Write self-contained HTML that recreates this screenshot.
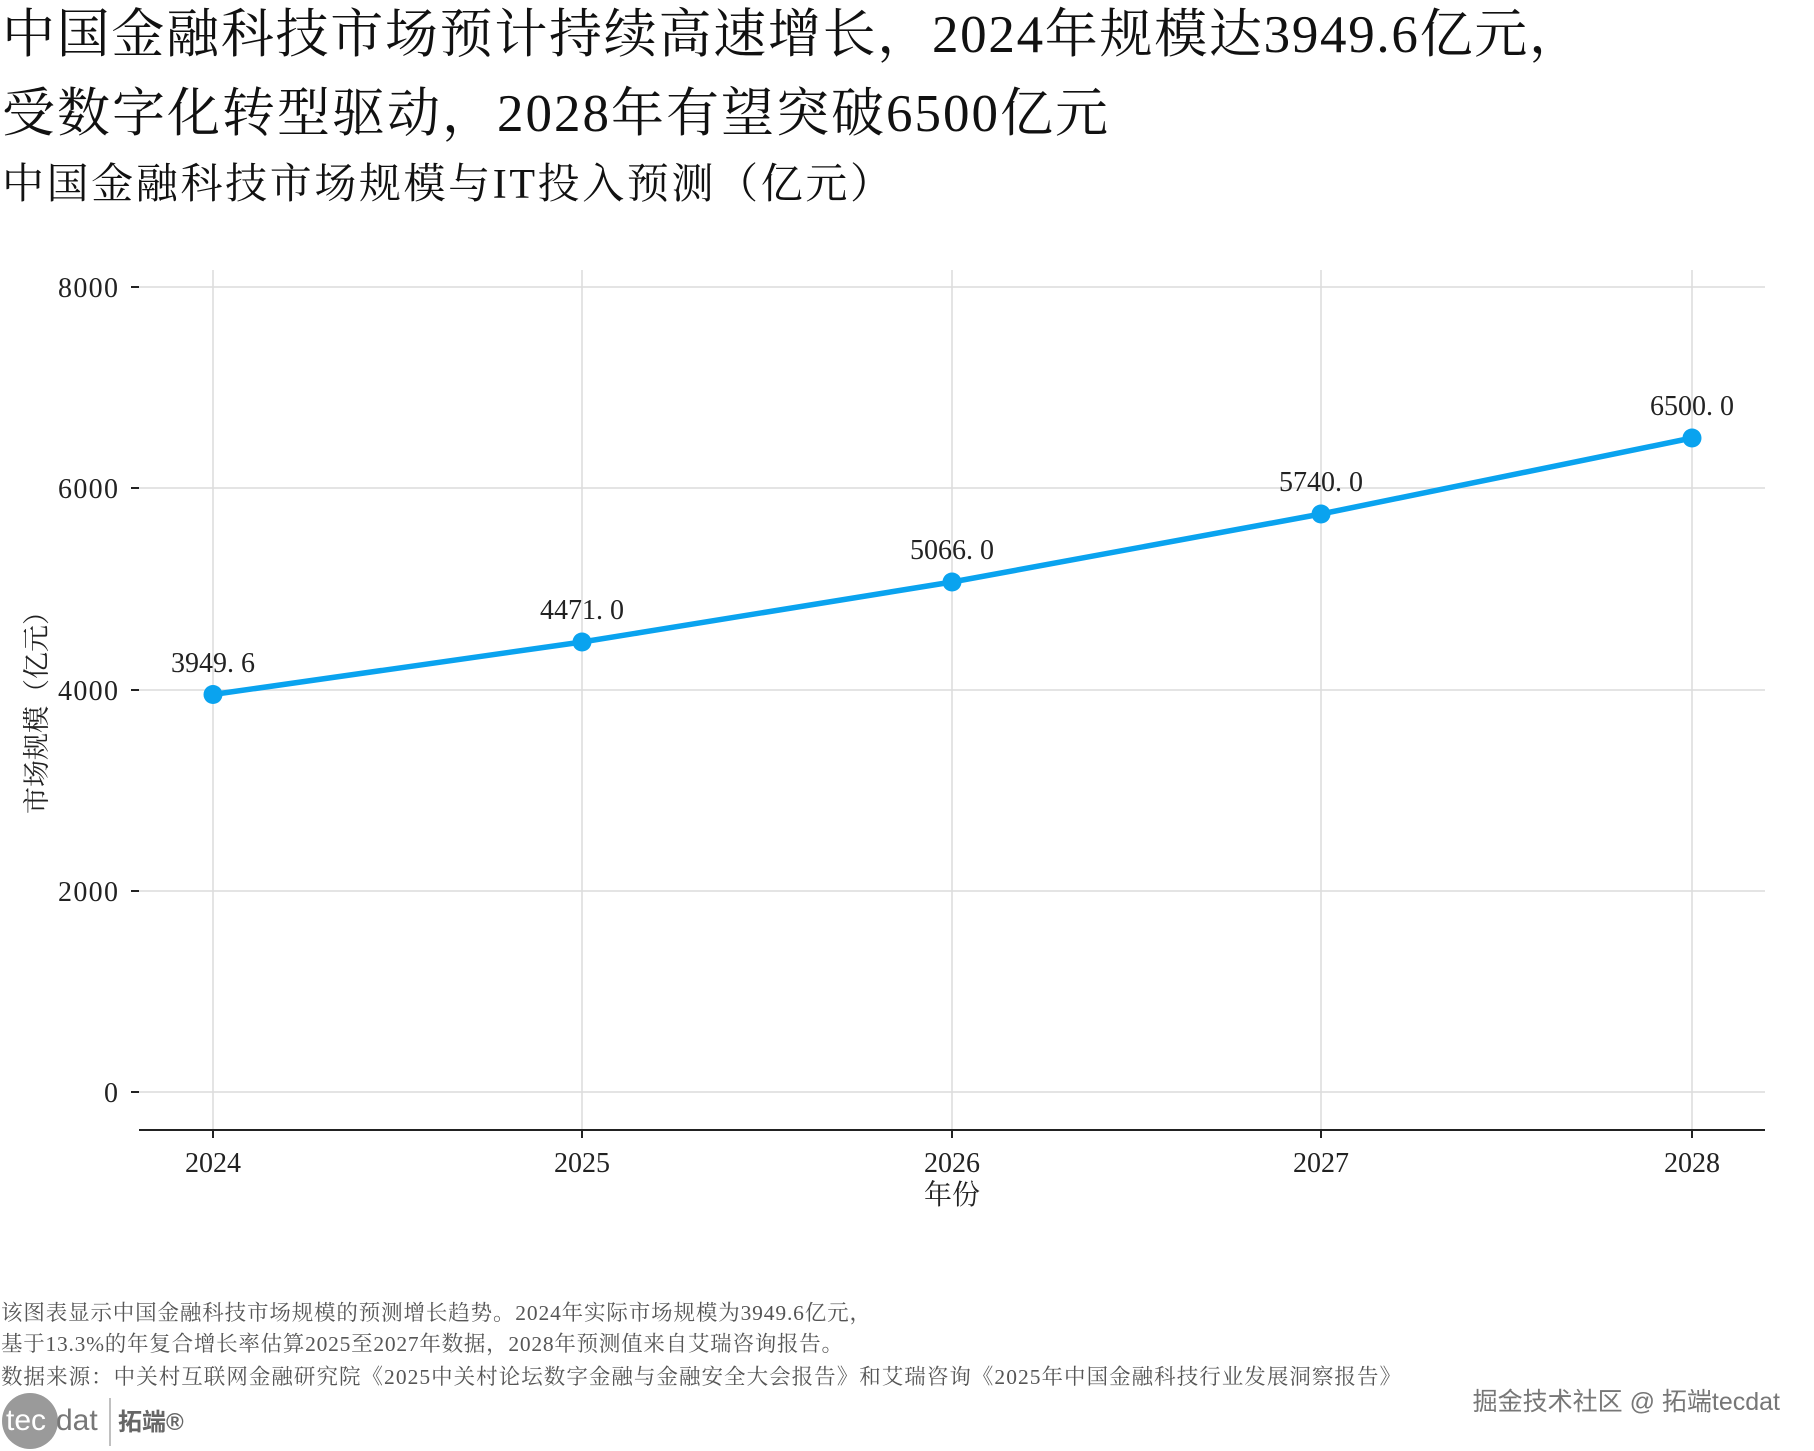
<!DOCTYPE html>
<html><head><meta charset="utf-8"><style>
body{margin:0;background:#fff;}
svg{display:block;font-family:"Liberation Serif","Noto Serif CJK SC",serif;}
</style></head><body>
<svg width="1814" height="1451" viewBox="0 0 1814 1451" xmlns="http://www.w3.org/2000/svg">
<text x="2" y="52" font-size="53" fill="#111" textLength="1580" lengthAdjust="spacing">中国金融科技市场预计持续高速增长，2024年规模达3949.6亿元，</text>
<text x="2" y="131" font-size="53" fill="#111" textLength="1106" lengthAdjust="spacing">受数字化转型驱动，2028年有望突破6500亿元</text>
<text x="2" y="198" font-size="42" fill="#111" textLength="890" lengthAdjust="spacing">中国金融科技市场规模与IT投入预测（亿元）</text>
<g stroke="#dcdcdc" stroke-width="1.5">
<line x1="139" y1="287" x2="1765" y2="287"/><line x1="139" y1="488" x2="1765" y2="488"/>
<line x1="139" y1="690" x2="1765" y2="690"/><line x1="139" y1="891" x2="1765" y2="891"/>
<line x1="139" y1="1092" x2="1765" y2="1092"/>
<line x1="213" y1="270" x2="213" y2="1130"/><line x1="582" y1="270" x2="582" y2="1130"/>
<line x1="952" y1="270" x2="952" y2="1130"/><line x1="1321" y1="270" x2="1321" y2="1130"/>
<line x1="1692" y1="270" x2="1692" y2="1130"/>
</g>
<g stroke="#222" stroke-width="2">
<line x1="131" y1="287" x2="139" y2="287"/><line x1="131" y1="488" x2="139" y2="488"/>
<line x1="131" y1="690" x2="139" y2="690"/><line x1="131" y1="891" x2="139" y2="891"/>
<line x1="131" y1="1092" x2="139" y2="1092"/>
<line x1="139" y1="1130" x2="1765" y2="1130"/>
<line x1="213" y1="1130" x2="213" y2="1138"/><line x1="582" y1="1130" x2="582" y2="1138"/>
<line x1="952" y1="1130" x2="952" y2="1138"/><line x1="1321" y1="1130" x2="1321" y2="1138"/>
<line x1="1692" y1="1130" x2="1692" y2="1138"/>
</g>
<g font-size="28" fill="#222" text-anchor="end">
<text x="118" y="297" textLength="60">8000</text><text x="118" y="498" textLength="60">6000</text><text x="118" y="700" textLength="60">4000</text>
<text x="118" y="901" textLength="60">2000</text><text x="118" y="1102">0</text>
</g>
<g font-size="28" fill="#222" text-anchor="middle">
<text x="213" y="1172">2024</text><text x="582" y="1172">2025</text><text x="952" y="1172">2026</text>
<text x="1321" y="1172">2027</text><text x="1692" y="1172">2028</text>
<text x="952" y="1204">年份</text>
</g>
<text transform="translate(46,706) rotate(-90)" font-size="27" fill="#222" text-anchor="middle">市场规模（亿元）</text>
<polyline points="213,694.5 582,642 952,582 1321,514 1692,438" fill="none" stroke="#0aa3ef" stroke-width="5.5" stroke-linejoin="round"/>
<g fill="#0aa3ef">
<circle cx="213" cy="694.5" r="9.5"/><circle cx="582" cy="642" r="9.5"/><circle cx="952" cy="582" r="9.5"/>
<circle cx="1321" cy="514" r="9.5"/><circle cx="1692" cy="438" r="9.5"/>
</g>
<g font-size="28" fill="#222" text-anchor="middle">
<text x="213" y="672">3949. 6</text><text x="582" y="619">4471. 0</text><text x="952" y="559">5066. 0</text>
<text x="1321" y="491">5740. 0</text><text x="1692" y="415">6500. 0</text>
</g>
<g font-size="21.5" fill="#555">
<text x="1" y="1320" textLength="870" lengthAdjust="spacing">该图表显示中国金融科技市场规模的预测增长趋势。2024年实际市场规模为3949.6亿元，</text>
<text x="1" y="1351" textLength="842" lengthAdjust="spacing">基于13.3%的年复合增长率估算2025至2027年数据，2028年预测值来自艾瑞咨询报告。</text>
<text x="1" y="1384" textLength="1400" lengthAdjust="spacing">数据来源：中关村互联网金融研究院《2025中关村论坛数字金融与金融安全大会报告》和艾瑞咨询《2025年中国金融科技行业发展洞察报告》</text>
</g>
<circle cx="30" cy="1421" r="28" fill="#9a9a9a"/>
<text x="6" y="1430" font-family="Liberation Sans,sans-serif" font-size="30" fill="#fff">tec</text>
<text x="56" y="1430" font-family="Liberation Sans,sans-serif" font-size="30" fill="#777">dat</text>
<line x1="110" y1="1398" x2="110" y2="1446" stroke="#aaa" stroke-width="1.5"/>
<text x="118" y="1430" font-family="Liberation Sans,'Noto Sans CJK SC',sans-serif" font-size="24" font-weight="bold" fill="#666">拓端®</text>
<text x="1780" y="1410" text-anchor="end" font-family="Liberation Sans,'Noto Sans CJK SC',sans-serif" font-size="25" fill="#777">掘金技术社区 @ 拓端tecdat</text>
</svg>
</body></html>
